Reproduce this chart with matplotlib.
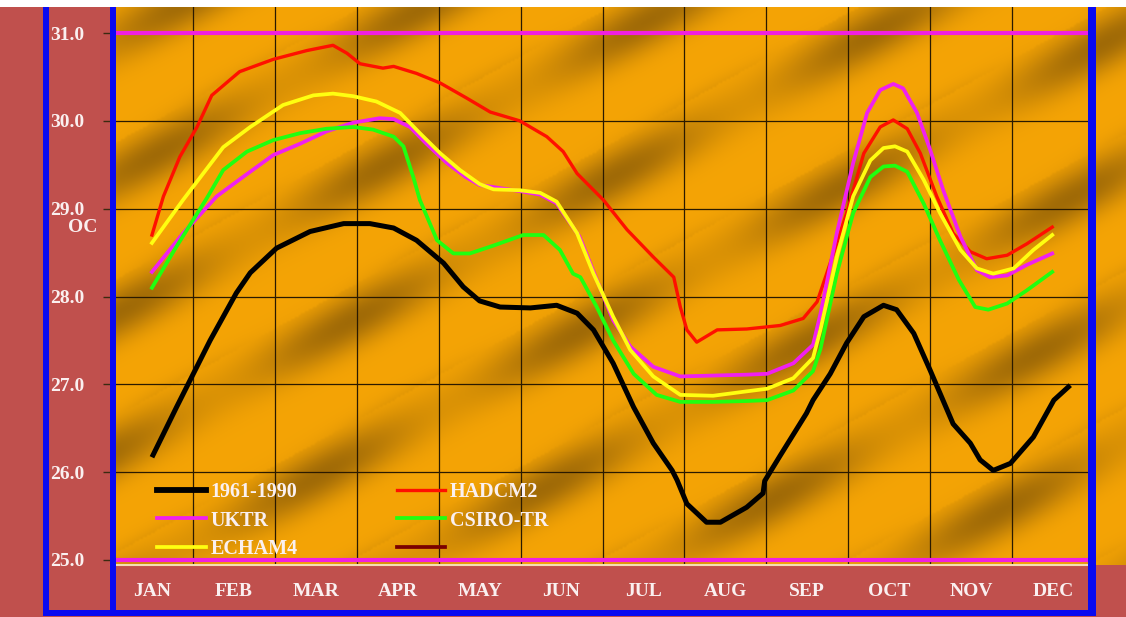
import numpy as np
import matplotlib.pyplot as plt
from matplotlib.lines import Line2D
from matplotlib.patches import Rectangle

months = ['JAN', 'FEB', 'MAR', 'APR', 'MAY', 'JUN',
          'JUL', 'AUG', 'SEP', 'OCT', 'NOV', 'DEC']
y_ticks = [25.0, 26.0, 27.0, 28.0, 29.0, 30.0, 31.0]

# x is in months, 0 = middle of JAN
base_x = [0.00, 0.30, 0.71, 1.03, 1.20, 1.52, 1.93, 2.34, 2.66, 2.95, 3.23, 3.56,
          3.80, 4.00, 4.25, 4.62, 4.94, 5.19, 5.39, 5.63, 5.88, 6.12, 6.35, 6.41,
          6.53, 6.77, 6.94, 7.26, 7.46, 7.48, 7.67, 7.99, 8.07, 8.28, 8.48, 8.69,
          8.93, 9.09, 9.30, 9.50, 9.78, 9.99, 10.11, 10.27, 10.48, 10.76, 11.01, 11.21]
base_y = [26.17, 26.74, 27.50, 28.04, 28.27, 28.55, 28.74, 28.83, 28.83, 28.78, 28.64, 28.38,
          28.11, 27.95, 27.88, 27.87, 27.90, 27.81, 27.62, 27.24, 26.74, 26.33, 26.02, 25.91,
          25.64, 25.43, 25.43, 25.60, 25.76, 25.90, 26.19, 26.67, 26.82, 27.12, 27.47, 27.77,
          27.90, 27.85, 27.58, 27.16, 26.55, 26.33, 26.14, 26.02, 26.10, 26.40, 26.82, 26.99]

had_x = [0.00, 0.14, 0.34, 0.55, 0.73, 1.07, 1.48, 1.89, 2.21, 2.38, 2.54, 2.82, 2.95,
         3.23, 3.52, 3.84, 4.13, 4.49, 4.82, 5.02, 5.19, 5.51, 5.80, 6.12, 6.37, 6.45,
         6.53, 6.65, 6.90, 7.26, 7.67, 7.95, 8.12, 8.28, 8.48, 8.69, 8.89, 9.05, 9.22,
         9.38, 9.58, 9.78, 9.99, 10.19, 10.44, 10.68, 10.99]
had_y = [28.70, 29.14, 29.59, 29.93, 30.29, 30.56, 30.70, 30.80, 30.86, 30.77, 30.65, 30.60, 30.62,
         30.54, 30.43, 30.26, 30.10, 30.00, 29.82, 29.65, 29.40, 29.10, 28.76, 28.45, 28.22, 27.88,
         27.62, 27.48, 27.62, 27.63, 27.67, 27.75, 27.94, 28.38, 28.95, 29.63, 29.93, 30.01, 29.91,
         29.63, 29.14, 28.72, 28.51, 28.43, 28.47, 28.60, 28.79]

ukt_x = [0.00, 0.38, 0.79, 1.11, 1.48, 1.81, 2.13, 2.46, 2.78, 2.95, 3.15, 3.35, 3.60,
         3.83, 4.00, 4.49, 4.74, 4.94, 5.22, 5.43, 5.63, 5.84, 6.12, 6.45, 6.85, 7.26,
         7.51, 7.83, 8.07, 8.16, 8.36, 8.56, 8.73, 8.89, 9.05, 9.17, 9.34, 9.50, 9.66,
         9.87, 10.07, 10.23, 10.44, 10.68, 10.99]
ukt_y = [28.28, 28.72, 29.14, 29.36, 29.61, 29.74, 29.88, 29.98, 30.03, 30.02, 29.93, 29.74, 29.52,
         29.36, 29.27, 29.20, 29.16, 29.06, 28.68, 28.19, 27.73, 27.43, 27.20, 27.09, 27.10, 27.11,
         27.12, 27.24, 27.45, 27.80, 28.72, 29.52, 30.09, 30.35, 30.42, 30.37, 30.09, 29.67, 29.21,
         28.68, 28.30, 28.22, 28.24, 28.36, 28.49]

csi_x = [0.00, 0.30, 0.67, 0.87, 1.16, 1.48, 1.81, 2.13, 2.46, 2.70, 2.95, 3.07, 3.19,
         3.27, 3.48, 3.68, 3.88, 4.17, 4.53, 4.78, 4.98, 5.14, 5.23, 5.43, 5.63, 5.88,
         6.16, 6.45, 6.85, 7.26, 7.51, 7.83, 8.07, 8.16, 8.36, 8.56, 8.77, 8.93, 9.07,
         9.22, 9.42, 9.62, 9.85, 10.05, 10.21, 10.44, 10.68, 10.99]
csi_y = [28.10, 28.57, 29.12, 29.44, 29.65, 29.78, 29.86, 29.91, 29.93, 29.90, 29.82, 29.71, 29.36,
         29.10, 28.64, 28.49, 28.49, 28.58, 28.70, 28.70, 28.53, 28.26, 28.22, 27.88, 27.50, 27.12,
         26.88, 26.80, 26.80, 26.81, 26.82, 26.93, 27.15, 27.40, 28.26, 28.95, 29.36, 29.48, 29.49,
         29.42, 29.06, 28.64, 28.19, 27.88, 27.85, 27.92, 28.07, 28.28]

ech_x = [0.00, 0.38, 0.87, 1.20, 1.60, 1.97, 2.21, 2.46, 2.74, 3.03, 3.27, 3.52, 3.76,
         4.00, 4.17, 4.49, 4.74, 4.94, 5.19, 5.39, 5.63, 5.84, 6.12, 6.45, 6.85, 7.26,
         7.51, 7.83, 8.07, 8.16, 8.36, 8.56, 8.77, 8.93, 9.07, 9.22, 9.42, 9.62, 9.87,
         10.07, 10.27, 10.52, 10.76, 10.99]
ech_y = [28.61, 29.10, 29.70, 29.93, 30.18, 30.29, 30.31, 30.28, 30.22, 30.09, 29.86, 29.63, 29.44,
         29.28, 29.22, 29.21, 29.18, 29.08, 28.72, 28.26, 27.77, 27.39, 27.09, 26.88, 26.87, 26.92,
         26.95, 27.07, 27.30, 27.62, 28.45, 29.14, 29.55, 29.69, 29.71, 29.65, 29.33, 28.95, 28.53,
         28.32, 28.26, 28.32, 28.53, 28.70]

W, H = 1126, 617
ROSY = '#C0504D'
BLUE = '#0A0AF0'
TXT = '#FAF0F0'
FONT = 'Liberation Serif'


def box(x0, y0, x1, y1):
    # pixel box (top-left origin) -> figure fraction rect
    return [x0 / W, 1 - y1 / H, (x1 - x0) / W, (y1 - y0) / H]


fig = plt.figure(figsize=(W / 100, H / 100), dpi=100, facecolor=ROSY)
fig.patches.append(Rectangle((0, 1 - 7 / H), 1, 7 / H, transform=fig.transFigure,
                             facecolor='white', edgecolor='none', zorder=0))

# golden backdrop with diagonal dark streaks
bg = fig.add_axes(box(111, 7, 1126, 565), zorder=0)
gx, gy = np.meshgrid(np.arange(0, 1015, 2.0), np.arange(0, 558, 2.0))
u = (0.55 * gx + gy) / 1.14
v = (gx - 0.55 * gy) / 1.14
band = (0.5 + 0.5 * np.sin(2 * np.pi * u / 120.0)) ** 2.2
dash = 0.5 + 0.5 * np.sin(2 * np.pi * v / 300.0 + 2.2 * np.floor(u / 120.0))
dark = np.clip(0.08 + 0.62 * band * (0.3 + 0.7 * dash), 0, 1)
light = np.array([1.0, 0.67, 0.02])
deep = np.array([0.47, 0.31, 0.03])
tex = light[None, None, :] * (1 - dark[..., None]) + deep[None, None, :] * dark[..., None]
bg.imshow(tex, aspect='auto', interpolation='bilinear')
bg.axis('off')

ax = fig.add_axes(box(111, 7, 1094, 565), zorder=1)
ax.set_facecolor('none')
ax.set_xlim(-0.5, 11.5)
ax.set_ylim(25 - 5 / 87.8, 31 + 26 / 87.8)

ax.set_xticks(range(12), labels=months)
ax.set_xticks(np.arange(0.5, 11.5, 1), minor=True)
ax.tick_params(axis='x', which='both', length=0, pad=13)
ax.set_yticks(y_ticks, labels=[f'{v:.1f}' for v in y_ticks])
ax.tick_params(axis='y', length=6, width=1, color='#3a2a10', pad=13, direction='out')
for lab in ax.get_xticklabels() + ax.get_yticklabels():
    lab.set_fontfamily(FONT)
    lab.set_fontweight('bold')
    lab.set_fontsize(14)
    lab.set_color(TXT)
ax.grid(True, axis='y', which='major', color='#2a1a00', lw=0.9)
ax.grid(True, axis='x', which='minor', color='#2a1a00', lw=0.9)
for side in ['top', 'left', 'right']:
    ax.spines[side].set_visible(False)
ax.spines['bottom'].set_color('#F5DDB5')
ax.spines['bottom'].set_linewidth(1.5)

ax.axhline(31.0, color='#F020E0', lw=3, zorder=3)
ax.axhline(25.0, color='#F020E0', lw=3, zorder=3)

ax.plot(base_x, base_y, color='black', lw=3.6, zorder=4, solid_capstyle='butt')
ax.plot(had_x, had_y, color='#FF1000', lw=2.4, zorder=4)
ax.plot(ech_x, ech_y, color='#FFFF10', lw=2.7, zorder=5)
ax.plot(ukt_x, ukt_y, color='#F020F0', lw=2.7, zorder=4)
ax.plot(csi_x, csi_y, color='#20FF10', lw=2.7, zorder=4)

handles = [Line2D([], [], color='black', lw=4.2),
           Line2D([], [], color='#F020F0', lw=2.7),
           Line2D([], [], color='#FFFF10', lw=2.7),
           Line2D([], [], color='#FF1000', lw=2.4),
           Line2D([], [], color='#20FF10', lw=2.7),
           Line2D([], [], color='#7A0000', lw=2.7)]
labels = ['1961-1990', 'UKTR', 'ECHAM4', 'HADCM2', 'CSIRO-TR', '']
leg = ax.legend(handles, labels, ncol=2, frameon=False, loc='lower left',
                bbox_to_anchor=(0.037, -0.008), handlelength=2.4, handletextpad=0.25,
                columnspacing=4.9, labelspacing=0.44, borderpad=0,
                prop={'family': FONT, 'weight': 'bold', 'size': 14.5})
for t in leg.get_texts():
    t.set_color(TXT)

fig.text(83 / W, 1 - 228 / H, 'OC', family=FONT, weight='bold', size=14,
         color=TXT, ha='center', va='center')

# blue frame bars
for x0, y0, x1, y1 in [(43, 7, 49, 616), (110, 7, 116, 616),
                       (1088, 7, 1096, 616), (43, 610, 1096, 616)]:
    fig.patches.append(Rectangle((x0 / W, 1 - y1 / H), (x1 - x0) / W, (y1 - y0) / H,
                                 transform=fig.transFigure, facecolor=BLUE,
                                 edgecolor='none', zorder=10))

fig.savefig('out.png', dpi=100, facecolor=fig.get_facecolor())
